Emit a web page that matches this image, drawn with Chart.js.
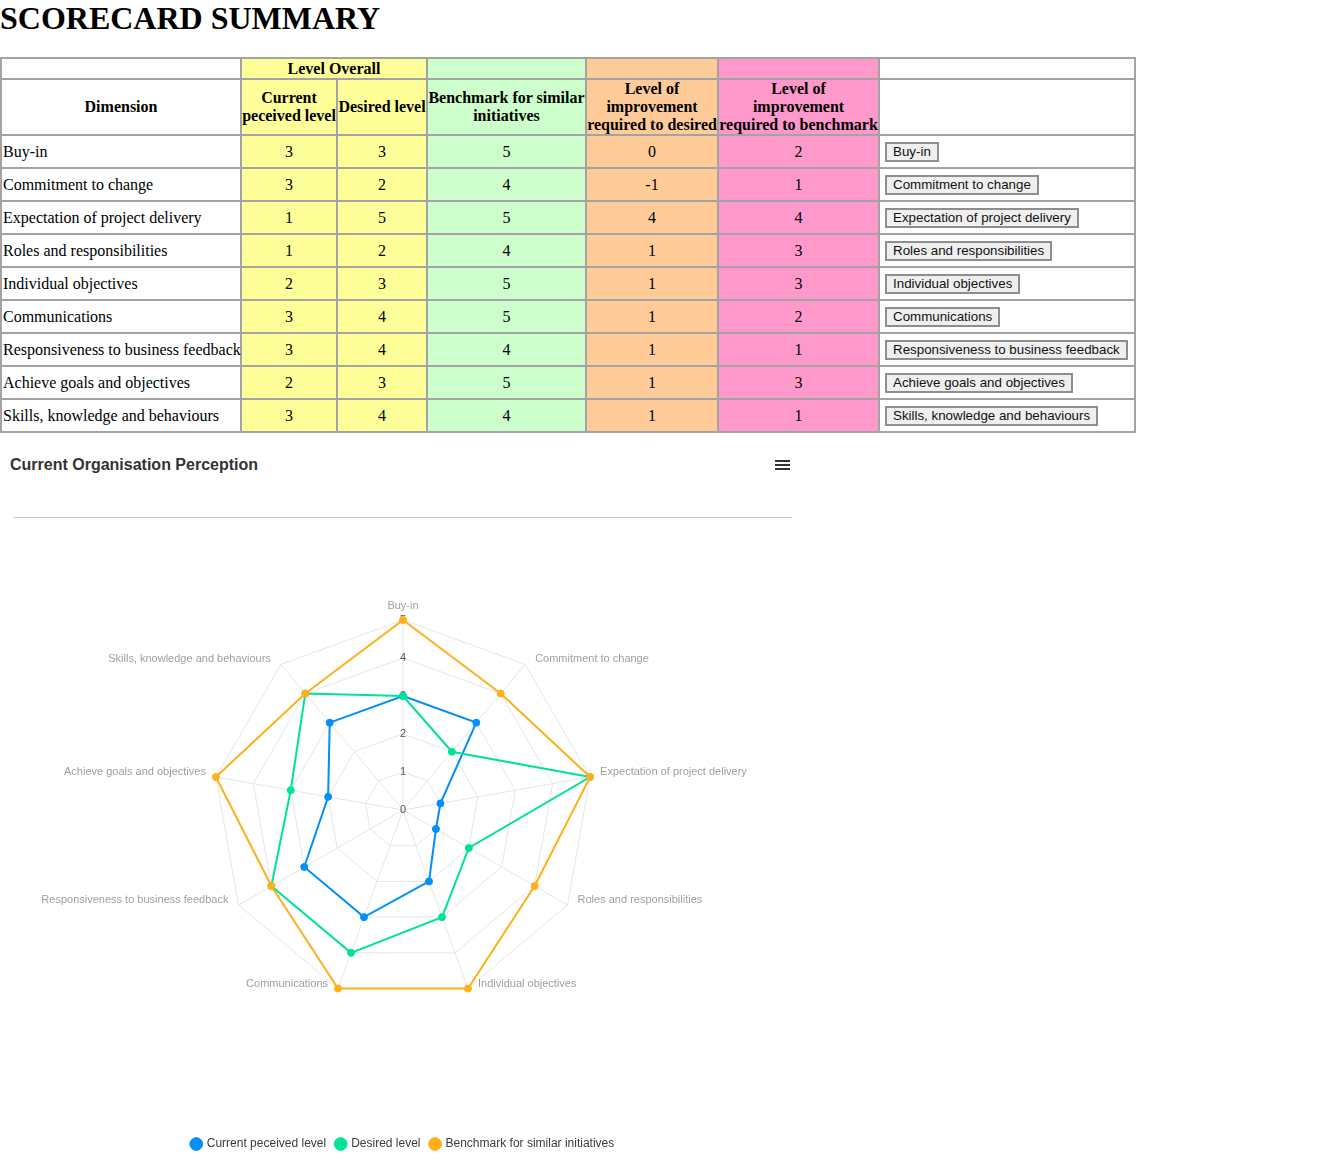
<!DOCTYPE html>
<html>
<head>
<meta charset="utf-8">
<title>Scorecard Summary</title>
<script src="https://cdn.jsdelivr.net/npm/chart.js@4.4.1/dist/chart.umd.min.js"></script>
<style>
  html, body { margin: 0; padding: 0; background: #fff; }
  body { width: 1328px; height: 1169px; position: relative; overflow: hidden; font-family: "Liberation Serif", "Times New Roman", serif; color: #000; }
  h1 { position: absolute; left: 0; top: 0; margin: 0; font-size: 32px; line-height: 37px; font-weight: bold; font-family: "Liberation Serif", serif; }
  #scoreTable { position: absolute; left: 0; top: 57px; border-collapse: collapse; table-layout: fixed; width: 1134px; font-size: 16px; }
  #scoreTable td, #scoreTable th { border: 2px solid #a3a3a3; padding: 0; }
  #scoreTable th { font-weight: bold; text-align: center; vertical-align: middle; line-height: 18px; }
  #scoreTable tr.h1row th { height: 19px; line-height: 19px; }
  #scoreTable td { text-align: center; line-height: 19px; padding: 6px 0; }
  #scoreTable td.dim { text-align: left; padding-left: 1px; white-space: nowrap; }
  #scoreTable td.btn { text-align: left; padding: 4px 0 4px 5px; line-height: 20px; }
  .white { background: #ffffff; }
  .yellow { background: #ffff99; }
  .green { background: #ccffcc; }
  .orange { background: #ffcc99; }
  .pink { background: #ff99cc; }
  button { font-family: "Liberation Sans", Arial, sans-serif; font-size: 13.33px; line-height: 14px; padding: 1px 6px; border: 2px solid #8e8e8e; border-radius: 0; background: #efefef; color: #111; margin: 0; vertical-align: middle; }
  #chartTitle { position: absolute; left: 10px; top: 455px; font-family: "Liberation Sans", Arial, sans-serif; font-weight: bold; font-size: 16px; line-height: 20px; color: #333; }
  .burger { position: absolute; left: 775px; width: 15px; height: 2px; background: #333; }
  #sep { position: absolute; left: 14px; top: 517px; width: 778px; height: 1px; background: #c6c6c6; }
  #chartWrap { position: absolute; left: 0; top: 530px; width: 806px; height: 630px; }
</style>
</head>
<body>
<h1>SCORECARD SUMMARY</h1>
<table id="scoreTable">
  <colgroup>
    <col style="width:240px"><col style="width:96px"><col style="width:90px"><col style="width:159px"><col style="width:132px"><col style="width:161px"><col style="width:256px">
  </colgroup>
  <thead>
    <tr class="h1row">
      <th class="white"></th>
      <th class="yellow" colspan="2">Level Overall</th>
      <th class="green"></th>
      <th class="orange"></th>
      <th class="pink"></th>
      <th class="white"></th>
    </tr>
    <tr>
      <th class="white">Dimension</th>
      <th class="yellow">Current peceived level</th>
      <th class="yellow">Desired level</th>
      <th class="green">Benchmark for similar initiatives</th>
      <th class="orange">Level of<br>improvement<br>required to desired</th>
      <th class="pink">Level of<br>improvement<br>required to benchmark</th>
      <th class="white"></th>
    </tr>
  </thead>
  <tbody id="tbody"></tbody>
</table>

<div id="chartTitle">Current Organisation Perception</div>
<div class="burger" style="top:460px"></div>
<div class="burger" style="top:464px"></div>
<div class="burger" style="top:468px"></div>
<div id="sep"></div>
<div id="chartWrap"><canvas id="radar"></canvas></div>

<script>
// ---- Data ----
const dimensions = [
  "Buy-in",
  "Commitment to change",
  "Expectation of project delivery",
  "Roles and responsibilities",
  "Individual objectives",
  "Communications",
  "Responsiveness to business feedback",
  "Achieve goals and objectives",
  "Skills, knowledge and behaviours"
];
const currentLevel   = [3, 3, 1, 1, 2, 3, 3, 2, 3];
const desiredLevel   = [3, 2, 5, 2, 3, 4, 4, 3, 4];
const benchmarkLevel = [5, 4, 5, 4, 5, 5, 4, 5, 4];
const improveToDesired   = [0, -1, 4, 1, 1, 1, 1, 1, 1];
const improveToBenchmark = [2, 1, 4, 3, 3, 2, 1, 3, 1];
const seriesNames = ["Current peceived level", "Desired level", "Benchmark for similar initiatives"];
const tickValues = [0, 1, 2, 3, 4, 5];

// ---- Table ----
const tbody = document.getElementById('tbody');
dimensions.forEach((d, i) => {
  const tr = document.createElement('tr');
  const cells = [
    ['white dim', d],
    ['yellow', currentLevel[i]],
    ['yellow', desiredLevel[i]],
    ['green', benchmarkLevel[i]],
    ['orange', improveToDesired[i]],
    ['pink', improveToBenchmark[i]]
  ];
  cells.forEach(([cls, txt]) => {
    const td = document.createElement('td');
    td.className = cls;
    td.textContent = txt;
    tr.appendChild(td);
  });
  const tdb = document.createElement('td');
  tdb.className = 'white btn';
  const b = document.createElement('button');
  b.textContent = d;
  tdb.appendChild(b);
  tr.appendChild(tdb);
  tbody.appendChild(tr);
});

// ---- Chart ----
const colors = ['#008FFB', '#00E396', '#FEB019'];
const seriesData = [currentLevel, desiredLevel, benchmarkLevel];
const sansFont = '"Liberation Sans", Helvetica, Arial, sans-serif';

// Category labels placed beside each spoke end (ApexCharts-like placement)
const spokeLabels = {
  id: 'spokeLabels',
  afterDraw(chart) {
    const scale = chart.scales.r;
    const ctx = chart.ctx;
    const n = chart.data.labels.length;
    ctx.save();
    ctx.font = '11px ' + sansFont;
    ctx.fillStyle = '#a0a0a0';
    ctx.textBaseline = 'middle';
    chart.data.labels.forEach((label, i) => {
      const p = scale.getPointPosition(i, scale.drawingArea);
      const deg = Math.round(i * 360 / n);
      let x = p.x, y = p.y - 5, align;
      if (deg === 0) { align = 'center'; y = p.y - 14; }
      else if (deg === 180) { align = 'center'; y = p.y + 14; }
      else if (deg < 180) { align = 'left'; x += 10; }
      else { align = 'right'; x -= 10; }
      ctx.textAlign = align;
      ctx.fillText(label, x, y);
    });
    ctx.restore();
  }
};

new Chart(document.getElementById('radar'), {
  type: 'radar',
  data: {
    labels: dimensions,
    datasets: seriesData.map((arr, i) => ({
      label: seriesNames[i],
      data: arr,
      borderColor: colors[i],
      backgroundColor: colors[i],
      pointBackgroundColor: colors[i],
      pointBorderColor: colors[i],
      pointBorderWidth: 1,
      pointRadius: 3.5,
      borderWidth: 2,
      fill: false,
      order: 3 - i
    }))
  },
  options: {
    responsive: true,
    maintainAspectRatio: false,
    animation: false,
    layout: { padding: { top: 83, bottom: 0, left: 0, right: 0 } },
    scales: {
      r: {
        min: -0.001,
        max: tickValues[tickValues.length - 1],
        ticks: {
          stepSize: 1,
          showLabelBackdrop: false,
          color: '#555',
          font: { size: 11, family: sansFont },
          callback: (v) => String(Math.max(tickValues[0], Math.round(v)))
        },
        grid: { color: '#e6e6e6', lineWidth: 1 },
        angleLines: { color: '#e6e6e6', lineWidth: 1 },
        pointLabels: { display: false }
      }
    },
    plugins: {
      tooltip: { enabled: false },
      legend: {
        position: 'bottom',
        title: { display: true, text: '', font: { size: 10 }, padding: { top: 108, bottom: 0 } },
        labels: {
          usePointStyle: true,
          pointStyle: 'circle',
          boxWidth: 9,
          boxHeight: 9,
          padding: 10,
          color: '#373d3f',
          font: { size: 12, family: sansFont },
          sort: (a, b) => a.datasetIndex - b.datasetIndex
        }
      }
    }
  },
  plugins: [spokeLabels]
});
</script>
</body>
</html>
